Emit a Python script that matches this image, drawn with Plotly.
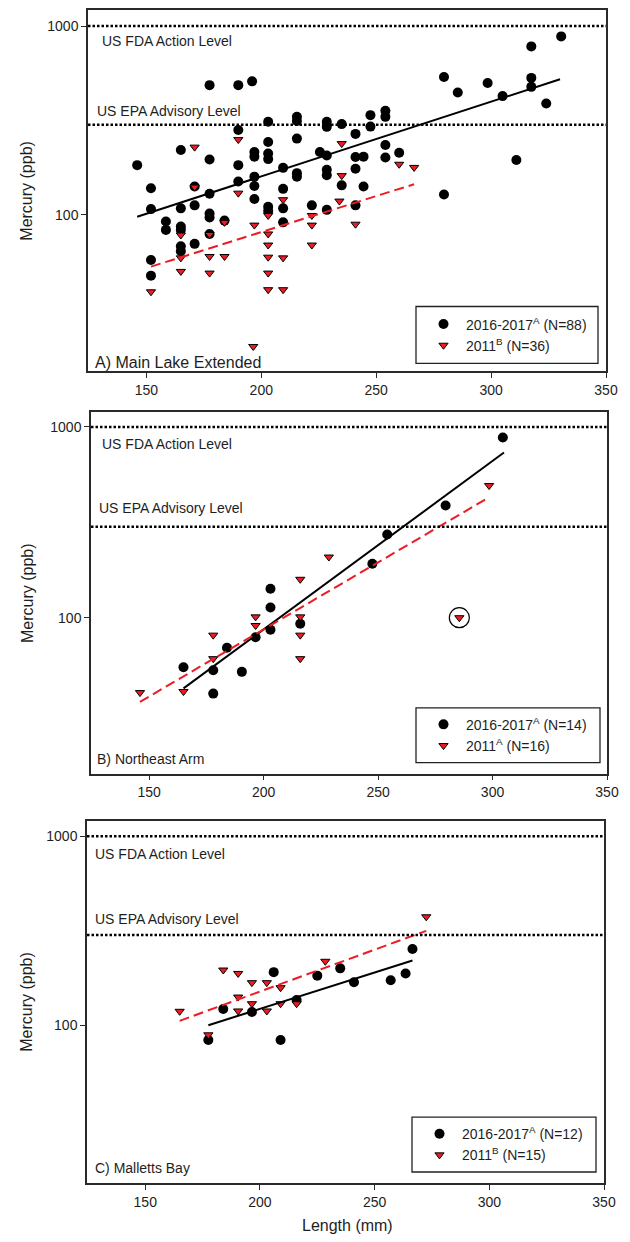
import plotly.graph_objects as go

# ---------------- DATA ----------------
levels = [1000, 300]
level_labels = ["US FDA Action Level", "US EPA Advisory Level"]

# Panel A) Main Lake Extended
A_2016_len = [146, 152, 165, 177.5, 177.5, 190, 196, 190, 190, 190, 197, 197, 197, 197,
              203, 203, 203, 203, 209.5, 215.5, 215.5, 215.5, 215.5, 215.5, 209.5,
              228.5, 228.5, 225.5, 228.5, 228.5, 228.5, 235, 235, 241, 241, 241,
              247.5, 247.5, 254, 254, 254, 244.5, 254, 260, 244.5, 279.5, 285.5,
              298.5, 305, 317.5, 317.5, 317.5, 324, 330.5, 311, 279.5, 241, 152,
              165, 171, 177.5, 197, 209.5, 209.5, 203, 203, 177.5, 177.5, 177.5,
              171, 165, 165, 165, 165, 158.5, 158.5, 152, 152, 222, 228.5, 171, 184]
A_2016_hg = [183, 138, 220, 486, 196, 486, 509, 281, 183, 150, 215, 203, 159, 142,
             311, 243, 211, 197, 177, 330, 314, 253, 166, 159, 137,
             311, 292, 215, 206, 173, 162, 302, 143, 268, 202, 175,
             337, 293, 355, 330, 234, 203, 201, 213, 141, 537, 444,
             499, 425, 780, 531, 476, 388, 881, 195, 128, 112, 107,
             108, 112, 129, 121, 108, 91, 110, 104.5, 101.5, 96.5, 79,
             70, 86.5, 83, 68, 64, 92, 83, 57.5, 47.5, 112, 106, 141, 93]
A_2011_len = [171, 171, 190, 235, 235, 260, 266.5, 234, 241, 190, 209.5, 203, 203, 203,
              203, 203, 203, 209.5, 209.5, 197, 196.5, 184, 184, 177.5, 177.5, 177.5,
              165, 165, 165, 152, 222, 222, 222]
A_2011_hg = [228, 140, 250, 238, 161, 185, 178, 118, 89, 130, 120, 99, 79, 69,
             59.5, 49, 40, 59, 40, 88, 20, 91, 60, 78.5, 60, 49,
             78, 59, 50, 39, 99, 88, 69]
A_fit_2016_len = [146, 330]
A_fit_2016_hg = [97.5, 522]
A_fit_2011_len = [152, 266.5]
A_fit_2011_hg = [53, 145]

# Panel B) Northeast Arm
B_2016_len = [165, 178, 178, 184, 190.5, 196.5, 203, 203, 203, 216, 247.5, 254, 279.5, 304.5]
B_2016_hg = [55, 53, 40, 69.5, 52, 79, 142, 113, 86.5, 93, 192, 273, 388, 880]
B_2011_len = [146, 165, 178, 178, 196.5, 196.5, 216, 216, 216, 216, 228.5, 298.5, 285.5]
B_2011_hg = [40.5, 41, 81, 61, 101, 91, 159, 101, 81, 61, 208, 493, 100]
B_outlier_len = [285.5]
B_outlier_hg = [100]
B_fit_2016_len = [165, 305]
B_fit_2016_hg = [42.6, 735]
B_fit_2011_len = [146, 298.5]
B_fit_2011_hg = [36.2, 428]

# Panel C) Malletts Bay
C_2016_len = [177.5, 184, 196.5, 206, 209, 216, 225, 235, 241, 257, 263.5, 266.5]
C_2016_hg = [83.5, 122, 117.5, 191, 83.5, 136, 183, 200, 169, 173, 188, 253]
C_2011_len = [165, 177.5, 184, 190.5, 190.5, 190.5, 196.5, 196.5, 203, 203, 209, 209,
              216, 228.5, 272.5]
C_2011_hg = [118.5, 89, 196, 188, 141, 119, 168, 130, 168, 119, 158, 130,
             130, 218, 375]
C_fit_2016_len = [177.5, 266.5]
C_fit_2016_hg = [100, 220]
C_fit_2011_len = [165, 272.5]
C_fit_2011_hg = [105.5, 316]

x_ticks = [150, 200, 250, 300, 350]
y_ticks = [100, 1000]

panel_titles = ["A) Main Lake Extended", "B) Northeast Arm", "C) Malletts Bay"]
legend_2016 = ["2016-2017<sup>A</sup> (N=88)", "2016-2017<sup>A</sup> (N=14)",
               "2016-2017<sup>A</sup> (N=12)"]
legend_2011 = ["2011<sup>B</sup> (N=36)", "2011<sup>A</sup> (N=16)",
               "2011<sup>B</sup> (N=15)"]

# ---------------- LAYOUT HELPERS ----------------
OFF = 8                      # page body margin of the html page
W, H = 630 - OFF, 1242 - OFF
ML, MR, MT, MB = 87 - OFF, 23, 8 - OFF, 59
PW, PH = W - ML - MR, H - MT - MB


def px_x(px):
    return (px - OFF - ML) / PW


def px_y(py):
    return (1242 - MB - py) / PH


FONT = "Liberation Sans, Arial, sans-serif"
TXT = "#1e1e1e"
RED = "#ec1c24"

# pixel geometry of panels in the reference picture
geo = [
    dict(l=88, r=606, t=8, b=370, yr=[1.169, 3.085],
         fda=(100, 39), epa=(95, 109), lab=(93, 361), lab_size=16,
         box=(416, 598, 305, 362)),
    dict(l=91, r=607, t=411, b=773, yr=[1.182, 3.077],
         fda=(100, 443), epa=(97, 507), lab=(95, 758), lab_size=14,
         box=(416, 600, 707, 762)),
    dict(l=87, r=604, t=820, b=1183, yr=[1.165, 3.083],
         fda=(93, 853), epa=(93, 919), lab=(93, 1168), lab_size=14,
         box=(412, 596, 1117, 1172)),
]

data_sets = [
    (A_2016_len, A_2016_hg, A_2011_len, A_2011_hg,
     A_fit_2016_len, A_fit_2016_hg, A_fit_2011_len, A_fit_2011_hg),
    (B_2016_len, B_2016_hg, B_2011_len, B_2011_hg,
     B_fit_2016_len, B_fit_2016_hg, B_fit_2011_len, B_fit_2011_hg),
    (C_2016_len, C_2016_hg, C_2011_len, C_2011_hg,
     C_fit_2016_len, C_fit_2016_hg, C_fit_2011_len, C_fit_2011_hg),
]

fig = go.Figure()
layout = dict(
    width=W, height=H,
    margin=dict(l=ML, r=MR, t=MT, b=MB),
    paper_bgcolor="white", plot_bgcolor="white",
    font=dict(family=FONT, size=14, color=TXT),
    showlegend=True,
)
shapes = []
annotations = []

for i, (g, ds) in enumerate(zip(geo, data_sets)):
    n = "" if i == 0 else str(i + 1)
    xa, ya = "x" + n, "y" + n
    leg = "legend" + n
    c_len, c_hg, t_len, t_hg, f1x, f1y, f2x, f2y = ds

    fig.add_trace(go.Scatter(
        x=c_len, y=c_hg, mode="markers", name=legend_2016[i], legend=leg,
        xaxis=xa, yaxis=ya,
        marker=dict(symbol="circle", size=10, color="black",
                    line=dict(width=0))))
    fig.add_trace(go.Scatter(
        x=t_len, y=t_hg, mode="markers", name=legend_2011[i], legend=leg,
        xaxis=xa, yaxis=ya,
        marker=dict(symbol="triangle-down", size=8, color=RED,
                    line=dict(width=1, color="black"))))
    if i == 1:
        fig.add_trace(go.Scatter(
            x=B_outlier_len, y=B_outlier_hg, mode="markers", showlegend=False,
            xaxis=xa, yaxis=ya,
            marker=dict(symbol="circle-open", size=20, color="black",
                        line=dict(width=1.2, color="black"))))
    fig.add_trace(go.Scatter(
        x=f1x, y=f1y, mode="lines", showlegend=False, xaxis=xa, yaxis=ya,
        line=dict(color="black", width=2)))
    fig.add_trace(go.Scatter(
        x=f2x, y=f2y, mode="lines", showlegend=False, xaxis=xa, yaxis=ya,
        line=dict(color=RED, width=2, dash="10px,5px")))

    axis_common = dict(
        showline=True, linecolor="#2a2a2a", linewidth=1.5, mirror=True,
        showgrid=False, zeroline=False, ticks="outside", ticklen=5,
        tickwidth=1.2, tickcolor="#2a2a2a",
        tickfont=dict(family=FONT, size=14, color=TXT),
    )
    layout["xaxis" + n] = dict(
        axis_common, domain=[px_x(g["l"]), px_x(g["r"])], anchor=ya,
        range=[124.6, 350], tickvals=x_ticks, ticktext=[str(v) for v in x_ticks])
    layout["yaxis" + n] = dict(
        axis_common, domain=[px_y(g["b"]), px_y(g["t"])], anchor=xa,
        type="log", range=g["yr"], tickvals=y_ticks,
        ticktext=[str(v) for v in y_ticks])

    # reference levels
    for lvl in levels:
        shapes.append(dict(
            type="line", xref=xa + " domain", x0=0, x1=1, yref=ya, y0=lvl, y1=lvl,
            line=dict(color="black", width=2.5, dash="2.5px,2px"), layer="above"))
    for (lx, ly), txt in zip([g["fda"], g["epa"]], level_labels):
        annotations.append(dict(
            text=txt, xref="paper", yref="paper", x=px_x(lx), y=px_y(ly),
            xanchor="left", yanchor="middle", showarrow=False,
            font=dict(family=FONT, size=14, color=TXT)))
    lx, ly = g["lab"]
    annotations.append(dict(
        text=panel_titles[i], xref="paper", yref="paper", x=px_x(lx), y=px_y(ly),
        xanchor="left", yanchor="middle", showarrow=False,
        font=dict(family=FONT, size=g["lab_size"], color=TXT)))

    # legend frame + legend
    bl, br, bt, bb = g["box"]
    shapes.append(dict(
        type="rect", xref="paper", yref="paper", x0=px_x(bl), x1=px_x(br),
        y0=px_y(bb), y1=px_y(bt), line=dict(color="#222", width=1.3),
        fillcolor="white", layer="below"))
    layout[leg] = dict(
        x=px_x(bl + 5), y=px_y((bt + bb) / 2), xanchor="left", yanchor="middle",
        bgcolor="rgba(0,0,0,0)", borderwidth=0, itemwidth=35, tracegroupgap=0,
        font=dict(family=FONT, size=14, color=TXT))

    # y axis title
    annotations.append(dict(
        text="Mercury (ppb)", xref="paper", yref="paper", x=px_x(27),
        y=px_y((g["t"] + g["b"]) / 2), xanchor="center", yanchor="middle",
        textangle=-90, showarrow=False,
        font=dict(family=FONT, size=16, color=TXT)))

annotations.append(dict(
    text="Length (mm)", xref="paper", yref="paper", x=px_x(347), y=px_y(1226),
    xanchor="center", yanchor="middle", showarrow=False,
    font=dict(family=FONT, size=16, color=TXT)))

layout["shapes"] = shapes
layout["annotations"] = annotations
fig.update_layout(**layout)

fig.write_html("out.html")
